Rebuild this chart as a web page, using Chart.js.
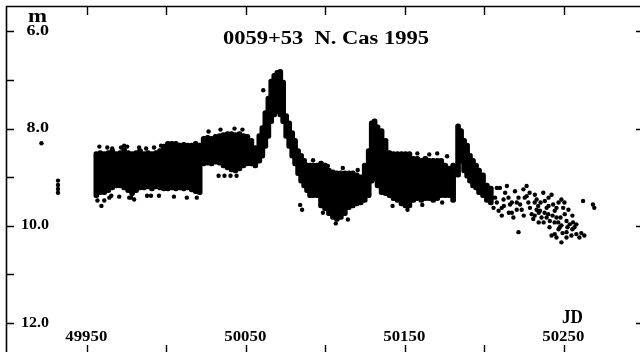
<!DOCTYPE html>
<html>
<head>
<meta charset="utf-8">
<script src="https://cdn.jsdelivr.net/npm/chart.js@4.4.1/dist/chart.umd.min.js"></script>
<style>
  html, body { margin: 0; padding: 0; background: #fff; }
  #wrap { width: 640px; height: 352px; }
</style>
</head>
<body>
<div id="wrap"><canvas id="lc" width="640" height="352"></canvas></div>
<script>
// dense part of the light curve: per 2-3 day bin, brightest and faintest magnitude
const bandJD = [
  49956.0, 49958.5, 49961.0, 49963.5, 49966.0, 49968.5, 49971.0, 49973.5, 49976.0, 49978.5,
  49981.0, 49983.5, 49986.0, 49988.5, 49991.0, 49993.5, 49996.0, 49998.5, 50001.0, 50003.5,
  50006.0, 50008.5, 50011.0, 50013.5, 50016.0, 50018.5, 50021.0,
  50023.5, 50026.0, 50028.5, 50031.0, 50033.5, 50036.0, 50038.5, 50041.0, 50043.5, 50046.0,
  50048.5, 50051.0, 50053.5, 50056.0, 50058.5,
  50060.4, 50062.3, 50064.2, 50066.0, 50067.9, 50069.8, 50071.7, 50073.5, 50075.4, 50077.3,
  50079.2, 50081.0, 50082.9, 50084.8, 50086.7, 50088.5, 50090.4,
  50092.3, 50094.8, 50097.3, 50099.8, 50102.3, 50104.8, 50107.3, 50109.8, 50112.3, 50114.8,
  50117.3, 50119.8, 50122.3, 50124.8, 50127.3,
  50129.2, 50131.0, 50132.9, 50135.4, 50137.9, 50140.4, 50142.9, 50145.4, 50147.9, 50150.4,
  50152.9, 50155.4, 50157.9, 50160.4, 50162.9, 50165.4, 50167.9, 50170.4, 50172.9, 50175.4,
  50177.9, 50180.4,
  50183.5, 50185.4, 50187.3, 50189.2, 50191.0, 50192.9, 50194.8, 50196.7, 50199.2, 50201.6,
  50204.1
];
const bandBright = [
  8.47, 8.45, 8.47, 8.45, 8.41, 8.47, 8.45, 8.39, 8.45, 8.47,
  8.45, 8.41, 8.47, 8.45, 8.47, 8.45, 8.41, 8.32, 8.26, 8.26,
  8.26, 8.30, 8.28, 8.30, 8.30, 8.26, 8.30,
  8.16, 8.14, 8.16, 8.12, 8.10, 8.08, 8.06, 8.06, 8.08, 8.06,
  8.10, 8.12, 8.20, 8.35, 8.10,
  7.94, 7.63, 7.33, 6.98, 6.86, 6.80, 6.78, 7.00, 7.69, 7.84,
  8.04, 8.20, 8.41, 8.51, 8.61, 8.71, 8.71,
  8.71, 8.71, 8.67, 8.71, 8.81, 8.85, 8.87, 8.87, 8.87, 8.87,
  8.87, 8.91, 8.95, 8.71, 8.41,
  7.84, 7.80, 7.92, 8.00, 8.20, 8.45, 8.47, 8.47, 8.47, 8.47,
  8.47, 8.57, 8.57, 8.61, 8.57, 8.61, 8.61, 8.61, 8.61, 8.71,
  8.77, 8.71,
  7.90, 8.00, 8.20, 8.30, 8.51, 8.61, 8.71, 8.81, 8.91, 9.12,
  9.18
];
const bandFaint = [
  9.42, 9.36, 9.36, 9.32, 9.26, 9.22, 9.22, 9.26, 9.32, 9.38,
  9.32, 9.26, 9.26, 9.24, 9.28, 9.24, 9.26, 9.28, 9.28, 9.26,
  9.28, 9.26, 9.28, 9.26, 9.30, 9.34, 9.36,
  8.77, 8.75, 8.77, 8.73, 8.75, 8.81, 8.85, 8.89, 8.91, 8.87,
  8.81, 8.77, 8.77, 8.81, 8.71,
  8.61, 8.41, 8.20, 7.90, 7.76, 7.69, 7.76, 7.90, 8.20, 8.41,
  8.61, 8.77, 8.97, 9.12, 9.22, 9.32, 9.42,
  9.42, 9.42, 9.63, 9.69, 9.79, 9.87, 9.91, 9.87, 9.79, 9.67,
  9.63, 9.59, 9.57, 9.52, 9.42,
  9.12, 9.08, 9.22, 9.36, 9.38, 9.42, 9.48, 9.52, 9.59, 9.63,
  9.63, 9.52, 9.48, 9.52, 9.48, 9.48, 9.52, 9.48, 9.42, 9.42,
  9.42, 9.52,
  9.00, 8.71, 8.91, 9.02, 9.12, 9.22, 9.26, 9.36, 9.42, 9.52,
  9.57
];

// single estimates that stand apart from the dense band, plus the sparse tail
const pointJD = [
  49921.5, 49931.9, 49931.9, 49931.9, 49931.9,
  49956.7, 49959.2, 49964.2, 49976.7, 49979.8, 49990.4,
  49957.9, 49966.0, 49973.5,
  49962.9, 49971.6, 49975.4, 49982.9, 49987.3, 49992.3, 49996.7,
  49961.0, 49965.4, 49970.4, 49977.9, 49987.9, 49995.4, 50004.8, 50012.9, 50019.2,
  50026.6, 50034.1, 50042.9, 50047.9,
  50032.9, 50036.6, 50040.4, 50044.2, 50061.0, 50084.2, 50085.4,
  50092.3, 50101.6, 50111.0, 50120.4, 50098.5, 50106.6, 50114.2,
  50142.3, 50151.7, 50161.0, 50173.5, 50157.9, 50165.4, 50170.4, 50176.6,
  50206.8, 50207.9, 50205.8, 50209.0, 50211.0, 50212.1, 50213.1, 50215.2, 50216.2, 50217.3,
  50218.3, 50219.3, 50221.5, 50222.5, 50224.6, 50226.6, 50226.6, 50227.7, 50228.7, 50229.8,
  50230.8, 50231.8, 50232.9, 50233.9, 50235.0, 50236.0, 50237.1, 50238.1, 50239.2, 50240.2,
  50241.2, 50242.3, 50243.3, 50244.3, 50245.4, 50246.5, 50247.5, 50248.5, 50249.6, 50250.6,
  50251.7, 50253.7, 50255.8, 50257.9, 50221.5, 50244.3, 50262.1, 50268.3, 50269.2,
  50242.3, 50245.4, 50248.5, 50251.7, 50254.8, 50257.9, 50261.0,
  50232.9, 50235.4, 50237.9, 50240.4, 50242.9, 50245.4, 50247.9, 50250.4, 50252.9, 50255.4,
  50237.3, 50241.0, 50252.3, 50255.4, 50249.2, 50246.7, 50234.2, 50231.7,
  50209.8, 50214.2, 50220.4, 50223.5, 50225.4, 50217.3, 50211.0, 50215.4,
  50202.9, 50204.8, 50207.9, 50212.3, 50220.4, 50224.8, 50228.5, 50231.7, 50234.2, 50239.2,
  50244.2, 50248.5, 50251.7, 50256.7, 50259.8, 50262.9, 50240.4, 50246.7
];
const pointMag = [
  8.30, 9.07, 9.16, 9.24, 9.32,
  9.48, 9.59, 9.42, 9.42, 9.46, 9.38,
  8.37, 8.41, 8.35,
  8.39, 8.39, 8.37, 8.39, 8.41, 8.39, 8.35,
  9.48, 9.38, 9.40, 9.42, 9.38, 9.38, 9.40, 9.42, 9.42,
  8.06, 8.02, 8.00, 8.02,
  8.97, 8.97, 8.97, 8.97, 7.21, 9.57, 9.67,
  8.65, 8.77, 8.81, 8.85, 9.73, 9.95, 9.87,
  9.59, 9.67, 9.57, 9.52, 8.51, 8.53, 8.51, 8.57,
  9.42, 9.52, 9.63, 9.69, 9.63, 9.46, 9.32, 9.42, 9.56, 9.73,
  9.83, 9.29, 9.42, 9.56, 9.25, 9.18, 9.39, 9.52, 9.63, 9.76,
  9.86, 9.36, 9.46, 9.59, 9.69, 9.83, 9.32, 9.49, 9.63, 9.76,
  9.90, 9.36, 9.56, 9.69, 9.83, 9.93, 10.03, 9.46, 9.63, 9.76,
  9.90, 9.97, 9.93, 9.97, 10.13, 10.17, 9.49, 9.56, 9.63,
  10.20, 10.24, 10.34, 10.24, 10.20, 10.17, 10.15,
  9.67, 9.52, 9.73, 9.59, 9.79, 9.63, 9.83, 9.52, 9.67, 9.79,
  9.93, 10.03, 10.03, 10.07, 10.15, 10.07, 9.93, 9.79,
  9.22, 9.18, 9.52, 9.67, 9.42, 9.52, 9.79, 9.73,
  9.32, 9.42, 9.22, 9.59, 9.67, 9.79, 9.32, 9.52, 9.73, 9.83,
  9.93, 9.99, 10.13, 10.03, 10.24, 10.20, 9.42, 9.52
];

const xTickValues = [49950, 50000, 50050, 50100, 50150, 50200, 50250];
const xTickLabels = ['49950', '50050', '50150', '50250'];
const yTickValues = [6, 7, 8, 9, 10, 11, 12];
const yTickLabels = ['6.0', '8.0', '10.0', '12.0'];
const titleText = '0059+53  N. Cas 1995';

const serif = "'Liberation Serif', 'DejaVu Serif', serif";

// draw text squeezed/stretched to a given width (the scan is wider than the font)
function fitText(ctx, text, x, y, font, width, align) {
  ctx.save();
  ctx.font = font;
  const w = ctx.measureText(text).width;
  ctx.translate(x, y);
  ctx.scale(width / w, 1);
  ctx.textAlign = align;
  ctx.fillText(text, 0, 0);
  ctx.restore();
}

const frame = {
  id: 'frame',
  afterDraw(chart) {
    const ctx = chart.ctx;
    const xs = chart.scales.x, ys = chart.scales.y;
    ctx.save();
    ctx.strokeStyle = '#000';
    ctx.fillStyle = '#000';
    ctx.lineWidth = 1.6;
    ctx.beginPath();
    ctx.moveTo(6.5, 352); ctx.lineTo(6.5, 6.5); ctx.lineTo(640, 6.5);
    ctx.stroke();
    ctx.lineWidth = 1.4;
    ctx.beginPath();
    xTickValues.forEach(v => {
      const px = Math.round(xs.getPixelForValue(v)) + 0.5;
      ctx.moveTo(px, 6.5); ctx.lineTo(px, 15);
      ctx.moveTo(px, 352); ctx.lineTo(px, 345);
    });
    yTickValues.forEach(v => {
      const py = Math.round(ys.getPixelForValue(v)) + 0.5;
      ctx.moveTo(6.5, py); ctx.lineTo(14, py);
      if (v % 2 === 0) { ctx.moveTo(636, py); ctx.lineTo(640, py); }
    });
    ctx.stroke();

    ctx.textBaseline = 'alphabetic';
    xTickLabels.forEach(t => {
      const px = xs.getPixelForValue(Number(t));
      fitText(ctx, t, px - 0.5, 341, 'bold 15px ' + serif, 42, 'center');
    });
    ctx.textBaseline = 'middle';
    yTickLabels.forEach(t => {
      const py = ys.getPixelForValue(Number(t));
      fitText(ctx, t, 49, py, 'bold 14px ' + serif, t.length > 3 ? 28 : 22.5, 'right');
    });
    ctx.textBaseline = 'alphabetic';
    fitText(ctx, 'm', 37.5, 22, 'bold 18px ' + serif, 19, 'center');
    fitText(ctx, 'JD', 572.5, 323, 'bold 18px ' + serif, 21, 'center');
    fitText(ctx, titleText, 326, 44, 'bold 18px ' + serif, 206, 'center');
    ctx.restore();
  }
};

const ctx = document.getElementById('lc').getContext('2d');
new Chart(ctx, {
  type: 'bar',
  data: {
    datasets: [
      {
        type: 'bar',
        label: 'band',
        data: bandJD.map((x, i) => ({ x: x, y: [bandBright[i], bandFaint[i]] })),
        backgroundColor: '#000',
        barThickness: 5,
        borderRadius: 2.5,
        borderSkipped: false,
        grouped: false,
      },
      {
        type: 'scatter',
        label: 'points',
        data: pointJD.map((x, i) => ({ x: x, y: pointMag[i] })),
        backgroundColor: '#000',
        borderWidth: 0,
        pointRadius: 2.2,
      }
    ]
  },
  options: {
    responsive: false,
    animation: false,
    layout: { padding: { left: 6, top: 6, right: 0, bottom: 0 } },
    scales: {
      x: { type: 'linear', min: 49899.2, max: 50295.4, offset: false, display: false },
      y: { type: 'linear', reverse: true, min: 5.477, max: 12.514, display: false }
    },
    plugins: {
      legend: { display: false },
      tooltip: { enabled: false },
      title: { display: false }
    }
  },
  plugins: [frame]
});
</script>
</body>
</html>
